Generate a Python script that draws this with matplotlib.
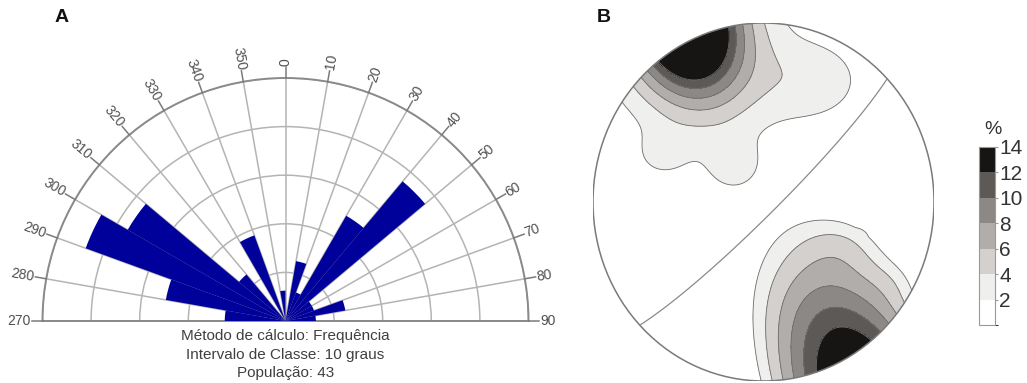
import numpy as np
import matplotlib
matplotlib.use("Agg")
import matplotlib.pyplot as plt
from matplotlib.colors import ListedColormap, BoundaryNorm
from matplotlib.patches import Circle
import matplotlib.colorbar as mcolorbar

plt.rcParams['font.family'] = ['Liberation Sans', 'DejaVu Sans']

# ---------------- Panel A data (half rose diagram) ----------------
bin_start_az = [270, 280, 290, 300, 310, 320, 330, 340, 350,
                0, 10, 20, 30, 40, 50, 60, 70, 80]
bin_counts = [2, 4, 7, 6, 2, 0, 3, 0, 1,
              0, 2, 1, 4, 6, 1, 1, 2, 1]
label_az = [270, 280, 290, 300, 310, 320, 330, 340, 350,
            0, 10, 20, 30, 40, 50, 60, 70, 80, 90]
ring_values = [1.6, 3.2, 4.8, 6.4, 8.0]
rose_rmax = 8.0
caption_lines = ["Método de cálculo: Frequência",
                 "Intervalo de Classe: 10 graus",
                 "População: 43"]

# ---------------- Panel B data (pole density contours, %) ----------------
cbar_levels = [0, 2, 4, 6, 8, 10, 12, 14]
cbar_ticks = [2, 4, 6, 8, 10, 12, 14]
line_levels = [2, 4, 6, 8, 10, 12]
band_colors = ['#ffffff', '#efefee', '#d3d0ce', '#b1adaa',
               '#8c8885', '#5d5957', '#171514']
# density maxima: position angle on primitive, offset beyond it, axis angle,
# peak value, radial / tangential reach, profile ('exp15' or 'cone')
max_pos_deg = [115.0, -61.8]
max_axis_deg = [115.0, -64.0]
max_offset = [0.10, 0.30]
max_amp = [26.0, 20.2]
max_lr = [0.389, 1.19]
max_lt = [0.292, 0.60]
max_profile = ['exp15', 'cone']
# secondary low-density lobes
lobe_x = [0.30, -0.17, -0.60, 0.52, 0.80]
lobe_y = [0.68, 0.20, 0.26, -0.20, -0.42]
lobe_sx = [0.22, 0.11, 0.12, 0.20, 0.12]
lobe_sy = [0.17, 0.10, 0.10, 0.13, 0.10]
lobe_amp = [3.0, 2.5, 1.8, 2.2, 1.4]
# great circle (strike, dip)
gc_strike = 46.5
gc_dip = 84.0

fig = plt.figure(figsize=(10.27, 3.83), dpi=100)

# ================= Panel A =================
W, H = 1027.0, 383.0
cx, cy, R = 285.5, 321.0, 243.0
box_top = cy - R / 2 - R
axA = fig.add_axes([(cx - R) / W, (H - box_top - 2 * R) / H, 2 * R / W, 2 * R / H],
                   projection='polar')
axA.set_theta_zero_location('N')
axA.set_theta_direction(-1)
axA.set_thetamin(-90)
axA.set_thetamax(90)
axA.set_ylim(0, rose_rmax)
axA.set_axisbelow(True)

theta0 = np.deg2rad([a - 360 if a >= 270 else a for a in bin_start_az])
axA.bar(theta0, bin_counts, width=np.deg2rad(10), align='edge',
        color='#00009a', edgecolor='none', zorder=3)

axA.set_rgrids(ring_values, labels=[])
axA.set_thetagrids(np.arange(-90, 91, 10), labels=[])
axA.grid(True, color='#b4b4b4', lw=1.1)
for s in axA.spines.values():
    s.set_color('#8a8a8a')
    s.set_linewidth(1.4)
axA.tick_params(length=0)

for az in label_az:
    th = az - 360 if az >= 270 else az
    t = np.deg2rad(th)
    axA.plot([t, t], [rose_rmax, rose_rmax * 1.045], color='#7a7a7a', lw=1.1,
             clip_on=False, zorder=4)
    if th >= 0:
        rot, ha = 90 - th, 'left'
    else:
        rot, ha = -90 - th, 'right'
    axA.text(t, rose_rmax * 1.05, str(az), rotation=rot, rotation_mode='anchor',
             ha=ha, va='center', fontsize=10, color='#505050', clip_on=False)

for i, line in enumerate(caption_lines):
    fig.text(cx / W, 1 - (336 + 18.5 * i) / H, line, ha='center', va='center',
             fontsize=11, color='#404040')

fig.text(62 / W, 1 - 18 / H, 'A', ha='center', va='center', fontsize=14,
         fontweight='bold', color='#111111')
fig.text(604 / W, 1 - 18 / H, 'B', ha='center', va='center', fontsize=14,
         fontweight='bold', color='#111111')

# ================= Panel B =================
axB = fig.add_axes([593 / W, 2 / H, 341 / W, 358 / H])
axB.set_xlim(-1.0, 1.0)
axB.set_ylim(-1.0, 1.0)
axB.set_aspect('auto')
axB.axis('off')

g = np.linspace(-1.02, 1.02, 461)
X, Y = np.meshgrid(g, g)
Z = np.zeros_like(X)
for pos_d, ax_d, off, amp, lr, lt, prof in zip(max_pos_deg, max_axis_deg, max_offset,
                                                max_amp, max_lr, max_lt, max_profile):
    a = np.deg2rad(pos_d)
    b = np.deg2rad(ax_d)
    px, py = (1 + off) * np.cos(a), (1 + off) * np.sin(a)
    dx, dy = X - px, Y - py
    dr = dx * np.cos(b) + dy * np.sin(b)
    dt = -dx * np.sin(b) + dy * np.cos(b)
    q = np.sqrt((dr / lr) ** 2 + (dt / lt) ** 2)
    if prof == 'cone':
        Z += amp * np.clip(1 - q, 0, None)
    else:
        Z += amp * np.exp(-q ** 1.5)
for lx, ly, sx, sy, amp in zip(lobe_x, lobe_y, lobe_sx, lobe_sy, lobe_amp):
    Z += amp * np.exp(-0.5 * (((X - lx) / sx) ** 2 + ((Y - ly) / sy) ** 2))

fill_levels = cbar_levels[:-1] + [1000]
clip = Circle((0, 0), 1.0, transform=axB.transData, facecolor='none', edgecolor='none')
axB.add_patch(clip)
cf = axB.contourf(X, Y, Z, levels=fill_levels, colors=band_colors)
cl = axB.contour(X, Y, Z, levels=line_levels, colors='#6e6e6e', linewidths=0.6)
cf.set_clip_path(clip)
cl.set_clip_path(clip)

# great circle (equal-area, lower hemisphere)
s = np.deg2rad(gc_strike)
dd = s + np.pi / 2
dip = np.deg2rad(gc_dip)
sv = np.array([np.sin(s), np.cos(s), 0.0])
dv = np.array([np.sin(dd) * np.cos(dip), np.cos(dd) * np.cos(dip), np.sin(dip)])
rk = np.linspace(0, np.pi, 200)
vec = np.outer(np.cos(rk), sv) + np.outer(np.sin(rk), dv)
plunge = np.arcsin(np.clip(vec[:, 2], -1, 1))
trend = np.arctan2(vec[:, 0], vec[:, 1])
rr = np.sqrt(2) * np.sin((np.pi / 2 - plunge) / 2)
axB.plot(rr * np.sin(trend), rr * np.cos(trend), color='#8a8a8a', lw=0.9)

axB.add_patch(Circle((0, 0), 1.0, fill=False, edgecolor='#7a7a7a', lw=1.1))

# colorbar
cax = fig.add_axes([979 / W, (H - 325) / H, 16 / W, 178 / H])
cmap = ListedColormap(band_colors)
norm = BoundaryNorm(cbar_levels, cmap.N)
cb = mcolorbar.ColorbarBase(cax, cmap=cmap, norm=norm, boundaries=cbar_levels,
                            ticks=cbar_ticks, orientation='vertical')
cb.outline.set_edgecolor('#999999')
cb.outline.set_linewidth(0.8)
cax.tick_params(labelsize=15, length=2, color='#999999', labelcolor='#333333', pad=1)
fig.text(993 / W, 1 - 130 / H, '%', ha='center', va='center', fontsize=14, color='#333333')

fig.savefig('out.png', dpi=100)
